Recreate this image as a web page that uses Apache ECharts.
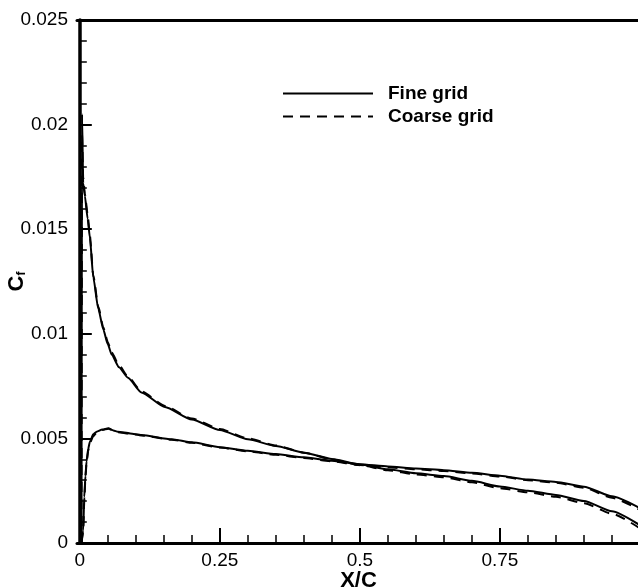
<!DOCTYPE html>
<html>
<head>
<meta charset="utf-8">
<script src="https://cdn.jsdelivr.net/npm/echarts@6/dist/echarts.min.js"></script>
<style>html,body{margin:0;padding:0;background:#fff}#c{width:638px;height:588px}</style>
</head>
<body>
<div id="c"></div>
<script>
// Surface with leading-edge peak
var xA = [0.003, 0.004, 0.006, 0.009, 0.014, 0.018, 0.024, 0.033, 0.042, 0.05, 0.057, 0.07, 0.086, 0.11, 0.152, 0.2, 0.25, 0.3, 0.35, 0.4, 0.45, 0.5, 0.55, 0.6, 0.65, 0.7, 0.75, 0.8, 0.85, 0.9, 0.95, 1.0];
var fineA = [0, 0.0205, 0.0172, 0.0166, 0.0155, 0.0146, 0.0127, 0.0112, 0.0102, 0.0095, 0.0090, 0.0084, 0.0079, 0.0072, 0.0065, 0.0059, 0.0054, 0.00496, 0.00464, 0.00432, 0.00402, 0.00375, 0.00352, 0.00333, 0.00320, 0.00297, 0.00270, 0.00250, 0.00230, 0.00201, 0.00152, 0.00085];
var coarseA = [0, 0.0195, 0.0175, 0.0167, 0.0157, 0.0147, 0.0128, 0.0113, 0.0103, 0.0096, 0.0091, 0.0085, 0.00795, 0.00725, 0.00655, 0.00595, 0.00545, 0.00500, 0.00466, 0.00432, 0.00400, 0.00372, 0.00348, 0.00328, 0.00314, 0.00290, 0.00262, 0.00242, 0.00221, 0.00190, 0.00140, 0.00070];
// Other surface
var xB = [0.003, 0.006, 0.008, 0.010, 0.012, 0.015, 0.018, 0.024, 0.030, 0.040, 0.051, 0.060, 0.068, 0.09, 0.11, 0.164, 0.2, 0.25, 0.3, 0.35, 0.4, 0.45, 0.5, 0.55, 0.6, 0.65, 0.7, 0.75, 0.8, 0.85, 0.9, 0.95, 1.0];
var fineB = [0, 0.0006, 0.0022, 0.0032, 0.0039, 0.0045, 0.00484, 0.0052, 0.00532, 0.00542, 0.00548, 0.00538, 0.00532, 0.00524, 0.00516, 0.00496, 0.00481, 0.00458, 0.00441, 0.00425, 0.0041, 0.00393, 0.00377, 0.00366, 0.00356, 0.00348, 0.00336, 0.00322, 0.00303, 0.00292, 0.00269, 0.00223, 0.00166];
var coarseB = [0, 0.0005, 0.0020, 0.0031, 0.0038, 0.0044, 0.00478, 0.0051, 0.00528, 0.00540, 0.00546, 0.00538, 0.00530, 0.00522, 0.00514, 0.00494, 0.00479, 0.00456, 0.00438, 0.00422, 0.00406, 0.00390, 0.00373, 0.00362, 0.00352, 0.00344, 0.00332, 0.00318, 0.00300, 0.00288, 0.00264, 0.00216, 0.00158];

var xMajor = [0, 0.25, 0.5, 0.75, 1.0];
var xMinor = [0.05, 0.1, 0.15, 0.2, 0.3, 0.35, 0.4, 0.45, 0.55, 0.6, 0.65, 0.7, 0.8, 0.85, 0.9, 0.95];
var xLabelValues = [0, 0.25, 0.5, 0.75];
var xLabels = ['0', '0.25', '0.5', '0.75'];

function pairs(xs, ys) { return xs.map(function (x, i) { return [x, ys[i]]; }); }

var FONT = '"Liberation Sans", Arial, Helvetica, sans-serif';
var chart = echarts.init(document.getElementById('c'));
var solid = { color: '#000', width: 2, type: 'solid' };
var dashed = { color: '#000', width: 2, type: [10, 7] };

chart.setOption({
  backgroundColor: '#fff',
  animation: false,
  grid: { left: 77, top: 20, width: 563, height: 523, containLabel: false, outerBoundsMode: 'none' },
  legend: {
    data: ['Fine grid', 'Coarse grid'],
    orient: 'vertical',
    left: 277, top: 79,
    itemWidth: 90, itemHeight: 14, itemGap: 4,
    itemStyle: { opacity: 0, borderWidth: 0 },
    textStyle: { fontFamily: FONT, fontWeight: 'bold', fontSize: 19, color: '#000', padding: [0, 0, 0, 10] }
  },
  xAxis: [
    {
      type: 'value', min: -0.005, max: 1.0, position: 'bottom',
      name: 'X/C', nameLocation: 'middle', nameGap: 27, nameMoveOverlap: false,
      nameTextStyle: { fontFamily: FONT, fontWeight: 'bold', fontSize: 22, color: '#000' },
      axisLine: { show: true, onZero: false, lineStyle: { color: '#000', width: 3 } },
      axisTick: { show: true, inside: true, length: 15, customValues: xMajor, lineStyle: { color: '#000', width: 2 } },
      axisLabel: {
        customValues: xLabelValues, margin: 8, color: '#000', fontFamily: FONT, fontSize: 19,
        formatter: function (v) { var i = xLabelValues.indexOf(v); return i >= 0 ? xLabels[i] : ''; }
      },
      splitLine: { show: false }
    },
    {
      type: 'value', min: -0.005, max: 1.0, position: 'bottom', gridIndex: 0,
      axisLine: { show: false, onZero: false },
      axisTick: { show: true, inside: true, length: 8, customValues: xMinor, lineStyle: { color: '#000', width: 1.5 } },
      axisLabel: { show: false },
      splitLine: { show: false }
    },
    {
      type: 'value', min: -0.005, max: 1.0, position: 'top', gridIndex: 0,
      axisLine: { show: true, onZero: false, lineStyle: { color: '#000', width: 3 } },
      axisTick: { show: false },
      axisLabel: { show: false },
      splitLine: { show: false }
    }
  ],
  yAxis: {
    type: 'value', min: 0, max: 0.025, interval: 0.005,
    name: '{c|C}{f|f}', nameLocation: 'middle', nameGap: 49, nameRotate: 90, nameMoveOverlap: false,
    nameTextStyle: {
      color: '#000',
      rich: {
        c: { fontFamily: FONT, fontWeight: 'bold', fontSize: 22, color: '#000' },
        f: { fontFamily: FONT, fontWeight: 'bold', fontSize: 12, color: '#000', verticalAlign: 'bottom', padding: [8, 0, 0, 0] }
      }
    },
    axisLine: { show: true, lineStyle: { color: '#000', width: 3.5 } },
    axisTick: { show: true, inside: true, length: 12, lineStyle: { color: '#000', width: 2 } },
    minorTick: { show: true, splitNumber: 5, length: 7, lineStyle: { color: '#000', width: 1.5 } },
    axisLabel: { margin: 9, color: '#000', fontFamily: FONT, fontSize: 19 },
    splitLine: { show: false },
    minorSplitLine: { show: false }
  },
  series: [
    { name: 'Fine grid', type: 'line', xAxisIndex: 0, data: pairs(xA, fineA), showSymbol: false, symbol: 'none', smooth: 0.2, smoothMonotone: 'x', lineStyle: solid, itemStyle: { color: '#000' } },
    { name: 'Fine grid', type: 'line', xAxisIndex: 0, data: pairs(xB, fineB), showSymbol: false, symbol: 'none', smooth: 0.2, smoothMonotone: 'x', lineStyle: solid, itemStyle: { color: '#000' } },
    { name: 'Coarse grid', type: 'line', xAxisIndex: 0, data: pairs(xA, coarseA), showSymbol: false, symbol: 'none', smooth: 0.2, smoothMonotone: 'x', lineStyle: dashed, itemStyle: { color: '#000' } },
    { name: 'Coarse grid', type: 'line', xAxisIndex: 0, data: pairs(xB, coarseB), showSymbol: false, symbol: 'none', smooth: 0.2, smoothMonotone: 'x', lineStyle: dashed, itemStyle: { color: '#000' } }
  ]
});
</script>
</body>
</html>
